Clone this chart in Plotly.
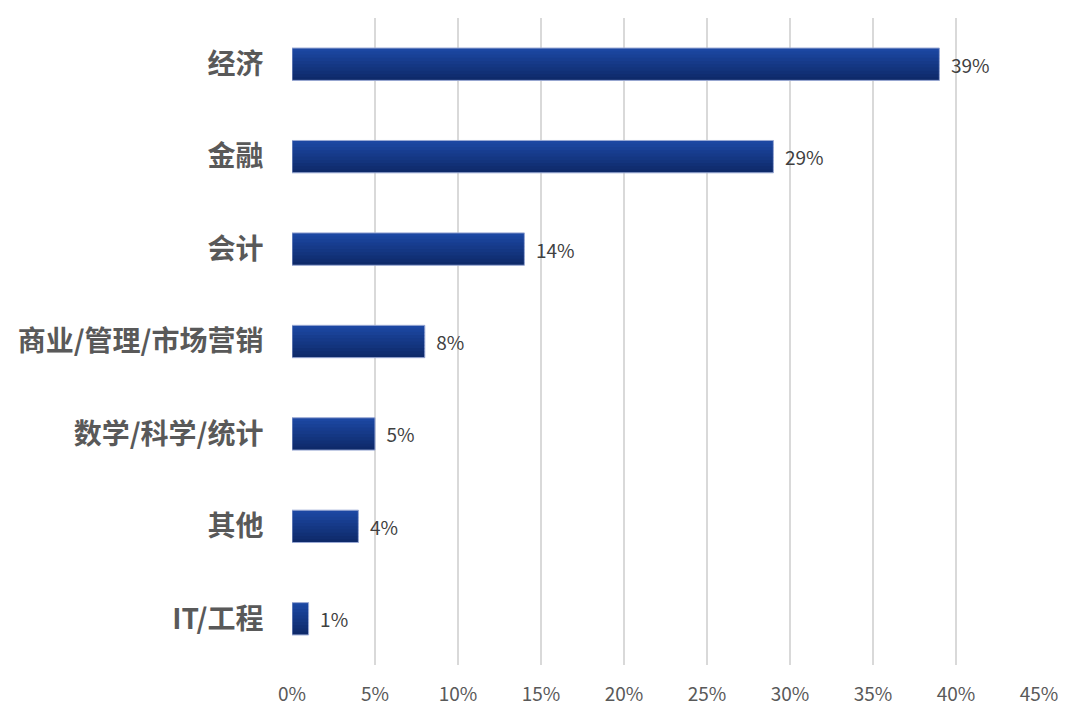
import plotly.graph_objects as go

categories = ['经济', '金融', '会计', '商业/管理/市场营销', '数学/科学/统计', '其他', 'IT/工程']
shares = [39, 29, 14, 8, 5, 4, 1]
x_ticks = [0, 5, 10, 15, 20, 25, 30, 35, 40, 45]
x_tick_labels = ['%d%%' % t for t in x_ticks]

bar_w = 0.35
n_strips = 10
top_rgb = (28, 71, 162)
bottom_rgb = (14, 42, 106)

fig = go.Figure()

# fake a top-to-bottom gradient with thin stacked strips
step = bar_w / n_strips
for i in range(n_strips):
    t = i / (n_strips - 1)
    c = tuple(round(a + (b - a) * t) for a, b in zip(top_rgb, bottom_rgb))
    fig.add_trace(go.Bar(
        y=categories,
        x=shares,
        orientation='h',
        width=step * 1.4 if i < n_strips - 1 else step,
        offset=-bar_w / 2 + i * step,
        marker=dict(color='rgb(%d,%d,%d)' % c, line=dict(width=0)),
        hoverinfo='skip',
    ))

# outline + labels
fig.add_trace(go.Bar(
    y=categories,
    x=shares,
    orientation='h',
    width=bar_w,
    offset=-bar_w / 2,
    marker=dict(color='rgba(0,0,0,0)', line=dict(color='#9AA9D4', width=1)),
    text=['\u00a0\u00a0%d%%' % v for v in shares],
    textposition='outside',
    textfont=dict(size=19, color='#404040', family='Noto Sans CJK SC'),
    cliponaxis=False,
))

# page body adds an 8px offset, margins compensate for it
fig.update_layout(
    width=1080, height=720,
    margin=dict(l=284, r=49, t=10, b=63, autoexpand=False),
    paper_bgcolor='white', plot_bgcolor='white',
    showlegend=False,
    barmode='overlay',
    font=dict(family='Noto Sans CJK SC'),
    xaxis=dict(
        range=[0, 45],
        automargin=False,
        tickvals=x_ticks,
        ticktext=x_tick_labels,
        showgrid=True, gridcolor='#D9D9D9', gridwidth=1.5,
        zeroline=False,
        tickfont=dict(size=19, color='#595959'),
        ticks='outside', ticklen=12, tickcolor='rgba(0,0,0,0)',
    ),
    yaxis=dict(
        autorange='reversed',
        automargin=False,
        showgrid=False, zeroline=False,
        tickfont=dict(size=28, color='#595959', family='Noto Sans CJK SC', weight='bold'),
        ticks='outside', ticklen=22, tickcolor='rgba(0,0,0,0)',
    ),
)

fig.write_html('out.html')
